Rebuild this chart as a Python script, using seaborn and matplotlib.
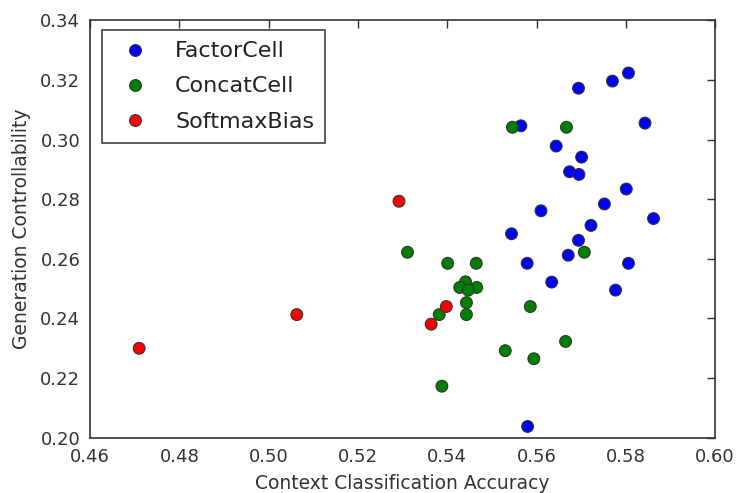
import pandas as pd
import numpy as np
import matplotlib
matplotlib.use('Agg')
import matplotlib.pyplot as plt
import seaborn as sns

# Vrednosti procitane sa slike
factor_x = [0.5806, 0.5770, 0.5694, 0.5565, 0.5843, 0.5644, 0.5701, 0.5674, 0.5695, 0.5801, 0.5752,
            0.5610, 0.5862, 0.5722, 0.5544, 0.5694, 0.5671, 0.5579, 0.5806, 0.5634, 0.5777, 0.5580]
factor_y = [0.3223, 0.3196, 0.3172, 0.3046, 0.3055, 0.2978, 0.2941, 0.2892, 0.2883, 0.2834, 0.2784,
            0.2761, 0.2735, 0.2712, 0.2684, 0.2662, 0.2612, 0.2585, 0.2585, 0.2522, 0.2495, 0.2038]
concat_x = [0.5546, 0.5667, 0.5311, 0.5707, 0.5401, 0.5465, 0.5441, 0.5428, 0.5466, 0.5447, 0.5443,
            0.5586, 0.5382, 0.5443, 0.5665, 0.5530, 0.5594, 0.5388]
concat_y = [0.3041, 0.3041, 0.2622, 0.2622, 0.2585, 0.2585, 0.2523, 0.2504, 0.2504, 0.2495, 0.2453,
            0.2440, 0.2413, 0.2413, 0.2323, 0.2292, 0.2265, 0.2173]
softmax_x = [0.5292, 0.4710, 0.5063, 0.5398, 0.5364]
softmax_y = [0.2793, 0.2300, 0.2413, 0.2440, 0.2381]

models = ['FactorCell', 'ConcatCell', 'SoftmaxBias']
colors = ['#0000ff', '#007f00', '#ff0000']

df = pd.concat([
    pd.DataFrame({'acc': factor_x, 'ctrl': factor_y, 'model': 'FactorCell'}),
    pd.DataFrame({'acc': concat_x, 'ctrl': concat_y, 'model': 'ConcatCell'}),
    pd.DataFrame({'acc': softmax_x, 'ctrl': softmax_y, 'model': 'SoftmaxBias'}),
], ignore_index=True)

sns.set_style('white')
plt.rcParams['font.family'] = ['DejaVu Sans']

fig, ax = plt.subplots(figsize=(7.38, 4.93), dpi=100)
fig.subplots_adjust(left=0.122, right=0.969, top=0.959, bottom=0.112)

sns.scatterplot(data=df, x='acc', y='ctrl', hue='model', hue_order=models,
                palette=colors, s=72, edgecolor='#333333', linewidth=0.8,
                ax=ax, zorder=3)

ticks_x = np.arange(0.46, 0.601, 0.02)
ticks_y = np.arange(0.20, 0.341, 0.02)
ax.set_xlim(0.46, 0.60)
ax.set_ylim(0.20, 0.34)
ax.set_xticks(ticks_x)
ax.set_yticks(ticks_y)
ax.set_xticklabels([f'{v:.2f}' for v in ticks_x])
ax.set_yticklabels([f'{v:.2f}' for v in ticks_y])
ax.tick_params(direction='in', length=6, width=1, top=True, right=True,
               labelsize=13, colors='#333333', pad=7)
for sp in ax.spines.values():
    sp.set_color('#333333')
    sp.set_linewidth(1.2)

ax.set_xlabel('Context Classification Accuracy', fontsize=13.5, color='#333333', labelpad=6)
ax.set_ylabel('Generation Controllability', fontsize=13.5, color='#333333', labelpad=7)

leg = ax.legend(loc='upper left', fontsize=16, frameon=True, fancybox=False,
                borderpad=0.5, handletextpad=0.8, labelspacing=0.68,
                borderaxespad=0, bbox_to_anchor=(0.019, 0.976))
leg.get_frame().set_edgecolor('#111111')
leg.get_frame().set_linewidth(1.2)
for t in leg.get_texts():
    t.set_color('#222222')

plt.savefig('out.png', dpi=100)
